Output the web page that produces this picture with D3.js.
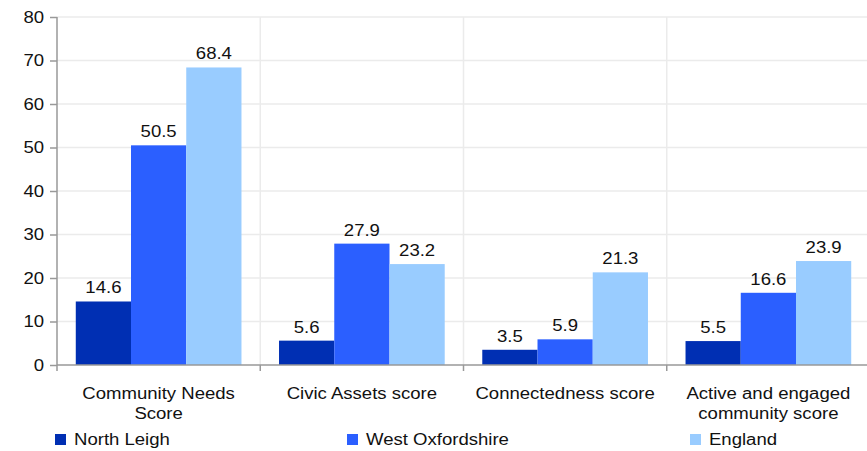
<!DOCTYPE html>
<html>
<head>
<meta charset="utf-8">
<script src="https://cdn.jsdelivr.net/npm/d3@7"></script>
<style>
  body { margin: 0; background: #fff; }
  svg text { font-family: "Liberation Sans", Arial, sans-serif; fill: #111; }
</style>
</head>
<body>
<svg width="867" height="451"></svg>
<script>
var categories = [["Community Needs", "Score"], ["Civic Assets score"], ["Connectedness score"], ["Active and engaged", "community score"]];
var seriesNames = ["North Leigh", "West Oxfordshire", "England"];
var northLeigh = [14.6, 5.6, 3.5, 5.5];
var westOxon = [50.5, 27.9, 5.9, 16.6];
var england = [68.4, 23.2, 21.3, 23.9];
var yTicks = [0, 10, 20, 30, 40, 50, 60, 70, 80];
var colors = ["#002fb3", "#2b5fff", "#99ccff"];

var sx = 1.16; // the source text is drawn a little wide

var svg = d3.select("svg"),
    margin = { top: 17, right: -3, bottom: 86, left: 57 },
    width = +svg.attr("width") - margin.left - margin.right,
    height = +svg.attr("height") - margin.top - margin.bottom;

var seriesValues = [northLeigh, westOxon, england];
var data = categories.map(function (c, i) {
  return { key: i, values: seriesValues.map(function (s, j) { return { series: j, value: s[i] }; }) };
});

var x0 = d3.scaleBand().domain(d3.range(categories.length)).range([0, width]).paddingInner(0).paddingOuter(0);
var x1 = d3.scaleBand().domain(d3.range(seriesNames.length)).range([0, x0.bandwidth()]).paddingInner(0).paddingOuter(0.34);
var y = d3.scaleLinear().domain([0, 80]).range([height, 0]);

var g = svg.append("g").attr("transform", "translate(" + margin.left + "," + margin.top + ")");

// gridlines
g.append("g").selectAll("line").data(yTicks.slice(1)).enter().append("line")
  .attr("x1", 0).attr("x2", width)
  .attr("y1", function (d) { return y(d); }).attr("y2", function (d) { return y(d); })
  .attr("stroke", "#ebebeb").attr("stroke-width", 1.5);
g.append("g").selectAll("line").data(d3.range(1, categories.length)).enter().append("line")
  .attr("x1", function (d) { return x0(d); }).attr("x2", function (d) { return x0(d); })
  .attr("y1", 0).attr("y2", height)
  .attr("stroke", "#ebebeb").attr("stroke-width", 1.5);

// bars
var groups = g.selectAll(".grp").data(data).enter().append("g")
  .attr("transform", function (d) { return "translate(" + x0(d.key) + ",0)"; });
groups.selectAll("rect").data(function (d) { return d.values; }).enter().append("rect")
  .attr("x", function (d) { return x1(d.series); })
  .attr("width", x1.bandwidth())
  .attr("y", function (d) { return y(d.value); })
  .attr("height", function (d) { return height - y(d.value); })
  .attr("fill", function (d) { return colors[d.series]; });
groups.selectAll("text").data(function (d) { return d.values; }).enter().append("text")
  .attr("transform", function (d) {
    return "translate(" + (x1(d.series) + x1.bandwidth() / 2) + "," + (y(d.value) - 8) + ") scale(" + sx + ",1)";
  })
  .attr("text-anchor", "middle").style("font-size", "16px")
  .text(function (d) { return d.value.toFixed(1); });

// y axis
var yAxis = g.append("g").call(d3.axisLeft(y).tickValues(yTicks).tickSize(7).tickPadding(6));
yAxis.selectAll("text").style("font-size", "16px").attr("fill", "#111")
  .attr("x", -13 / sx).attr("transform", "scale(" + sx + ",1)");
yAxis.selectAll("line, path").attr("stroke", "#999").attr("stroke-width", 1.5);
yAxis.select("path").attr("d", "M0," + height + "V0");

// x axis
var xa = g.append("g").attr("transform", "translate(0," + height + ")");
xa.append("line").attr("x1", 0).attr("x2", width).attr("stroke", "#999").attr("stroke-width", 1.5);
xa.selectAll(".tk").data(d3.range(categories.length)).enter().append("line")
  .attr("x1", function (d) { return x0(d); }).attr("x2", function (d) { return x0(d); })
  .attr("y1", 0).attr("y2", 6).attr("stroke", "#999").attr("stroke-width", 1.5);
var lbl = xa.selectAll(".lbl").data(categories).enter().append("text")
  .attr("text-anchor", "middle").style("font-size", "16px")
  .attr("transform", function (d, i) { return "translate(" + (x0(i) + x0.bandwidth() / 2) + ",34) scale(" + sx + ",1)"; });
lbl.selectAll("tspan").data(function (d) { return d; }).enter().append("tspan")
  .attr("x", 0).attr("dy", function (d, i) { return i ? 20 : 0; })
  .text(function (d) { return d; });

// legend
var legendX = [55, 347, 690];
var lg = svg.append("g").selectAll("g").data(seriesNames).enter().append("g")
  .attr("transform", function (d, i) { return "translate(" + legendX[i] + ",434)"; });
lg.append("rect").attr("width", 11).attr("height", 11).attr("fill", function (d, i) { return colors[i]; });
lg.append("text").attr("transform", "translate(19,11) scale(" + sx + ",1)")
  .style("font-size", "16px").text(function (d) { return d; });
</script>
</body>
</html>
